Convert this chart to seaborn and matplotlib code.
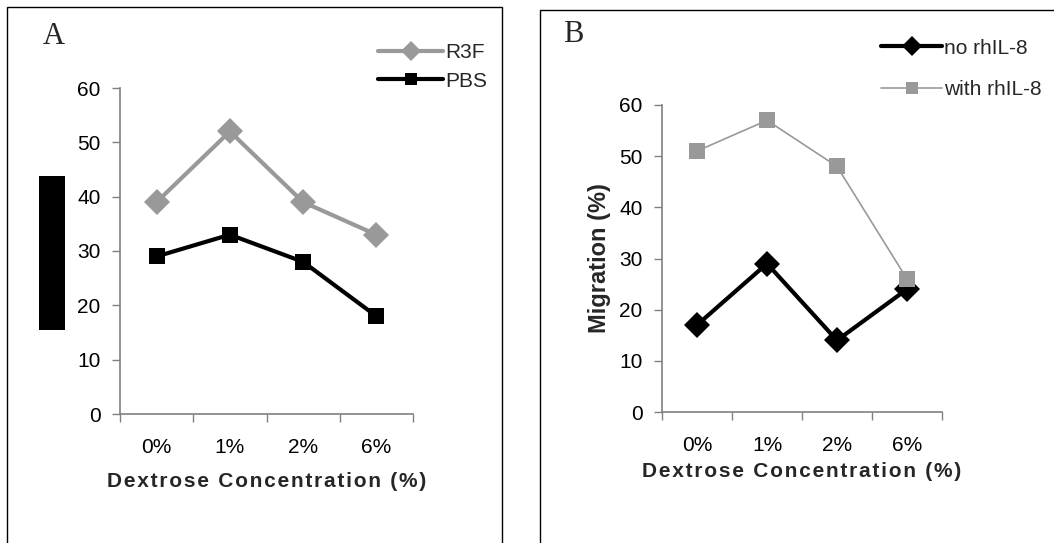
import numpy as np
import pandas as pd
import matplotlib
matplotlib.use("Agg")
import matplotlib.pyplot as plt
import seaborn as sns
from matplotlib.patches import Rectangle

sns.set_theme(style="white")
plt.rcParams["font.family"] = ["Liberation Sans", "DejaVu Sans"]

categories = ["0%", "1%", "2%", "6%"]
r3f = [39, 52, 39, 33]
pbs = [29, 33, 28, 18]
no_il8 = [17, 29, 14, 24]
with_il8 = [51, 57, 48, 26]
yticks = [0, 10, 20, 30, 40, 50, 60]
xlabel = "Dextrose Concentration (%)"

GRAY = "#999999"
AXIS = "#808080"
W, H = 1054, 543

fig = plt.figure(figsize=(W / 100, H / 100), dpi=100)


def px_axes(x0, y_top, x1, y_bot):
    return fig.add_axes([x0 / W, 1 - y_bot / H, (x1 - x0) / W, (y_bot - y_top) / H])


def spaced(s):
    return "\u200a".join(s)


def style_axes(ax):
    ax.set_xlim(-0.5, len(categories) - 0.5)
    ax.set_ylim(0, 60)
    ax.set_yticks(yticks)
    ax.set_yticklabels([str(v) for v in yticks], fontsize=15, color="black")
    ax.set_xticks(np.arange(-0.5, len(categories), 1.0))
    ax.set_xticklabels([])
    ax.set_xticks(np.arange(len(categories)), minor=True)
    ax.set_xticklabels(categories, minor=True, fontsize=15, color="black")
    ax.tick_params(axis="x", which="major", direction="out", length=6, width=1, color=AXIS, bottom=True)
    ax.tick_params(axis="x", which="minor", length=0, pad=17, bottom=True)
    ax.tick_params(axis="y", direction="out", length=6, width=1, color=AXIS, left=True, pad=8)
    for side in ["top", "right"]:
        ax.spines[side].set_visible(False)
    for side in ["left", "bottom"]:
        ax.spines[side].set_color(AXIS)
        ax.spines[side].set_linewidth(1.2)
    ax.set_facecolor("none")
    ax.grid(False)


# Panel frames
fig.patches.append(Rectangle((7 / W, -0.1), (502 - 7) / W, 1.1 - 7 / H,
                             transform=fig.transFigure, fill=False, edgecolor="black", lw=1))
fig.patches.append(Rectangle((540 / W, -0.1), 1.2, 1.1 - 10 / H,
                             transform=fig.transFigure, fill=False, edgecolor="black", lw=1))

# ---- Panel A ----
axA = px_axes(120, 88, 413, 414)
dfA = pd.DataFrame({"x": list(range(4)) * 2,
                    "y": r3f + pbs,
                    "series": ["R3F"] * 4 + ["PBS"] * 4})
sns.lineplot(data=dfA[dfA.series == "R3F"], x="x", y="y", ax=axA, color=GRAY, lw=3,
             marker="D", markersize=13, markeredgewidth=0, label="R3F")
sns.lineplot(data=dfA[dfA.series == "PBS"], x="x", y="y", ax=axA, color="black", lw=3,
             marker="s", markersize=12, markeredgewidth=0, label="PBS")
style_axes(axA)
axA.set_xlabel(spaced(xlabel), fontsize=15, fontweight="bold", labelpad=11)
axA.set_ylabel("")
axA.legend(loc="center left", bbox_to_anchor=(368 / W, 1 - 67 / H), bbox_transform=fig.transFigure,
           frameon=False, fontsize=15, handlelength=3.1, handletextpad=0.1, labelspacing=0.45,
           borderpad=0, markerscale=0.75)
fig.text(54 / W, 1 - 36 / H, "A", fontsize=22, family="Liberation Serif", va="center", ha="center")
fig.patches.append(Rectangle((39 / W, 1 - 330 / H), 26 / W, 154 / H,
                             transform=fig.transFigure, facecolor="black", edgecolor="none"))

# ---- Panel B ----
axB = px_axes(662, 105, 942, 412)
dfB = pd.DataFrame({"x": list(range(4)) * 2,
                    "y": no_il8 + with_il8,
                    "series": ["no rhIL-8"] * 4 + ["with rhIL-8"] * 4})
sns.lineplot(data=dfB[dfB.series == "no rhIL-8"], x="x", y="y", ax=axB, color="black", lw=3,
             marker="D", markersize=13, markeredgewidth=0, label="no rhIL-8")
sns.lineplot(data=dfB[dfB.series == "with rhIL-8"], x="x", y="y", ax=axB, color=GRAY, lw=1.2,
             marker="s", markersize=12, markeredgewidth=0, label="with rhIL-8")
style_axes(axB)
axB.set_xlabel(spaced(xlabel), fontsize=15, fontweight="bold", labelpad=5)
axB.set_ylabel("Migration (%)", fontsize=17, fontweight="bold", labelpad=6)
axB.legend(loc="center left", bbox_to_anchor=(871 / W, 1 - 69 / H), bbox_transform=fig.transFigure,
           frameon=False, fontsize=15, handlelength=2.9, handletextpad=0.1, labelspacing=1.1,
           borderpad=0, markerscale=0.75)
fig.text(573 / W, 1 - 35 / H, "B", fontsize=22, family="Liberation Serif", va="center", ha="center")

fig.savefig("out.png", dpi=100, facecolor="white")
